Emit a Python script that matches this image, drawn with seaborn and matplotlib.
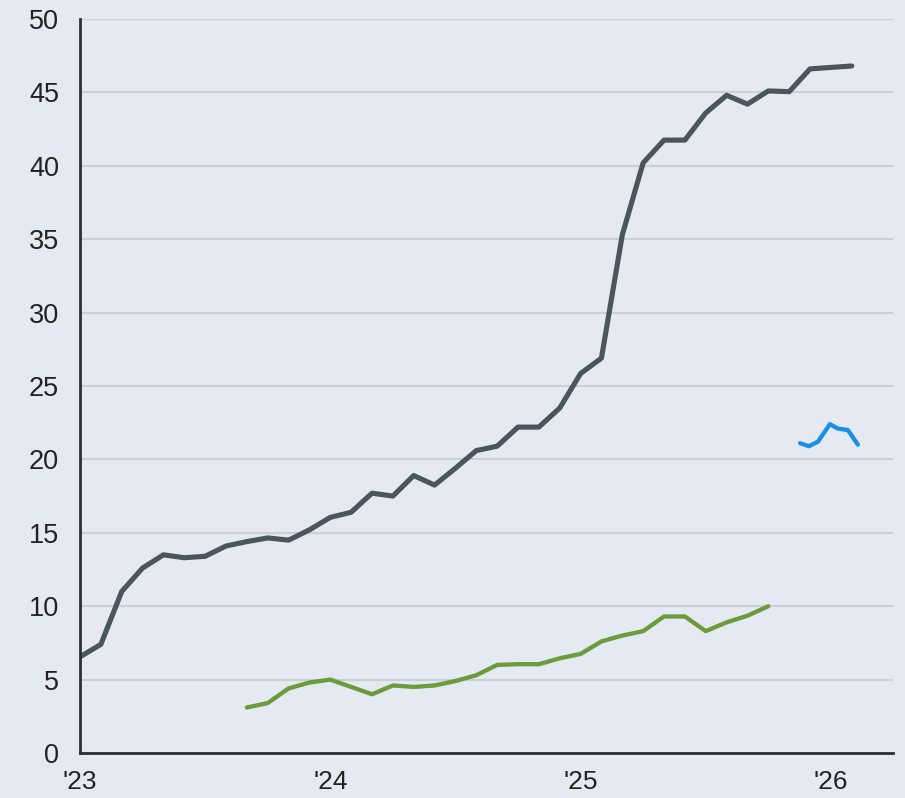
import numpy as np
import pandas as pd
import matplotlib.pyplot as plt
import seaborn as sns

# monthly points, x in decimal years (Jan '23 = 2023.0)
dark_vals = [6.55, 7.4, 11.0, 12.6, 13.5, 13.3, 13.4, 14.1, 14.4, 14.65, 14.5, 15.2,
             16.05, 16.4, 17.7, 17.5, 18.9, 18.25, 19.4, 20.6, 20.9, 22.2, 22.2, 23.5,
             25.85, 26.9, 35.3, 40.2, 41.75, 41.75, 43.6, 44.8, 44.2, 45.1, 45.05, 46.6,
             46.7, 46.8]
dark_x = [2023 + k / 12 for k in range(len(dark_vals))]

green_vals = [3.1, 3.4, 4.4, 4.8, 5.0, 4.5, 4.0, 4.6, 4.5, 4.6, 4.9, 5.3, 6.0, 6.05,
              6.05, 6.45, 6.75, 7.6, 8.0, 8.3, 9.3, 9.3, 8.3, 8.9, 9.35, 10.0]
green_x = [2023 + (k + 8) / 12 for k in range(len(green_vals))]

blue_vals = [21.1, 20.9, 21.2, 22.4, 22.1, 22.0, 21.0]
blue_x = [2025.877, 2025.912, 2025.948, 2025.996, 2026.028, 2026.068, 2026.108]

year_ticks = [2023, 2024, 2025, 2026]
year_labels = ["'23", "'24", "'25", "'26"]

bg = "#e5eaf2"
sns.set_style("white", {"axes.facecolor": bg, "figure.facecolor": bg})
plt.rcParams['font.family'] = ['Liberation Sans', 'DejaVu Sans']

fig = plt.figure(figsize=(9.05, 7.98), dpi=100)
ax = fig.add_axes([0.0884, 0.0564, 0.8983, 0.9198])

df_dark = pd.DataFrame({"x": dark_x, "y": dark_vals})
df_green = pd.DataFrame({"x": green_x, "y": green_vals})
df_blue = pd.DataFrame({"x": blue_x, "y": blue_vals})

sns.lineplot(data=df_dark, x="x", y="y", color="#4b555d", linewidth=3.7, ax=ax)
sns.lineplot(data=df_green, x="x", y="y", color="#6b9b3a", linewidth=3.1, ax=ax)
sns.lineplot(data=df_blue, x="x", y="y", color="#1a8fe6", linewidth=3.1, ax=ax)

ax.set_xlim(2023, 2026.248)
ax.set_ylim(0, 50)
ax.set_yticks(range(0, 51, 5))
ax.set_xticks(year_ticks)
ax.set_xticklabels(year_labels)
ax.set_xlabel("")
ax.set_ylabel("")

ax.grid(axis="y", color="#cbcfd7", linewidth=1.5)
ax.set_axisbelow(True)
for s in ["top", "right"]:
    ax.spines[s].set_visible(False)
for s in ["left", "bottom"]:
    ax.spines[s].set_color("#2b2f36")
    ax.spines[s].set_linewidth(2)

ax.tick_params(axis="y", length=0, pad=15, labelsize=19.5, labelcolor="#222222")
ax.tick_params(axis="x", length=7, width=2, color="#2b2f36", direction="out",
               pad=5, labelsize=19, labelcolor="#222222")

fig.savefig("out.png", dpi=100, facecolor=bg)
